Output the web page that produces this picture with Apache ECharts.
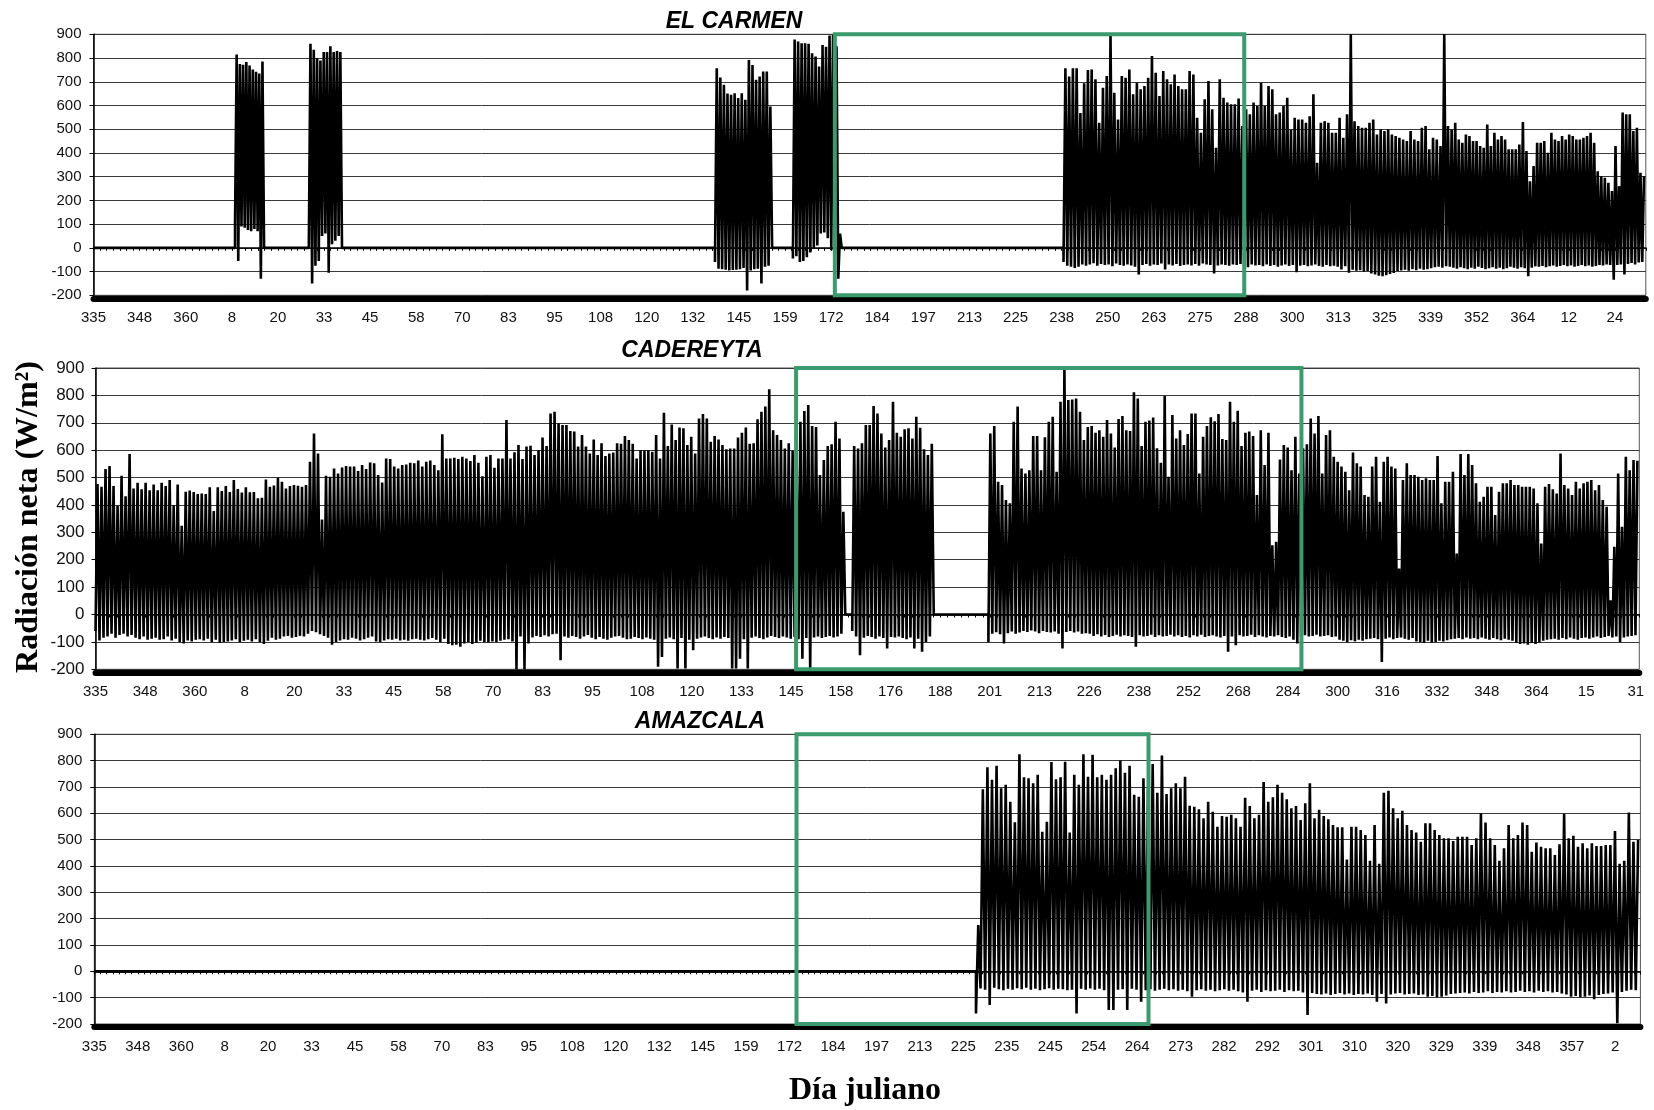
<!DOCTYPE html>
<html>
<head>
<meta charset="utf-8">
<title>Radiación neta</title>
<script src="https://cdn.jsdelivr.net/npm/echarts@6/dist/echarts.min.js"></script>
<style>
  html, body { margin: 0; padding: 0; background: #fff; }
  #chart { width: 1654px; height: 1110px; }
</style>
</head>
<body>
<div id="chart"></div>
<script>
// ---- Axis tick labels (Julian day shown every 12-13 records) ----
const carmenTicks = [335,348,360,8,20,33,45,58,70,83,95,108,120,132,145,159,172,184,197,213,225,238,250,263,275,288,300,313,325,339,352,364,12,24];
const cadereytaTicks = [335,348,360,8,20,33,45,58,70,83,95,108,120,133,145,158,176,188,201,213,226,238,252,268,284,300,316,332,348,364,15,31];
const amazcalaTicks = [335,348,360,8,20,33,45,58,70,83,95,108,120,132,145,159,172,184,197,213,225,235,245,254,264,273,282,292,301,310,320,329,339,348,357,2];

// ---- Axis extent, in label steps ----
const carmenMax = 33.67, cadereytaMax = 31.07, amazcalaMax = 35.58;

// ---- Recording periods [from, to], in label steps ----
const carmenSpans = [[3.07,3.70],[4.67,5.39],[13.48,14.72],[15.17,16.23],[21.04,21.61],[21.61,24.96],[24.96,29.42],[29.42,33.67]];
const cadereytaSpans = [[0,9.36],[9.36,15.09],[15.23,16.87],[17.97,20.01],[20.01,31.07]];
const amazcalaSpans = [[20.29,22.92],[22.92,35.58]];

// ---- Periods analysed (green frames), in label steps ----
const carmenWindow = [16.08, 24.96];
const cadereytaWindow = [14.10, 24.27];
const amazcalaWindow = [16.16, 24.26];

// ---- EL CARMEN: daily maximum and nightly minimum (W/m2) ----
const carmenPeaksA = [815,775,772,783,768,752,742,735,785];
const carmenLowsA  = [100,-55,90,85,75,70,80,70,-130];
const carmenPeaksB = [860,835,800,790,825,825,850,825,830,825];
const carmenLowsB  = [0,-150,-75,-55,50,60,-105,15,30,50];
const carmenPeaksC = [757,718,687,650,645,652,631,652,624,792,771,708,722,743,743,596];
const carmenLowsC  = [-60,-88,-90,-92,-95,-93,-92,-90,-85,-180,-95,-90,-88,-150,-80,-75];
const carmenPeaksD = [878,870,862,862,860,820,806,764,855,848,895,897,850,60];
const carmenLowsD  = [-45,-35,-60,-55,-40,-20,-5,10,60,65,40,-10,-40,-130];
const carmenPeaksE1 = [757,722,757,757,568,694,750];
const carmenLowsE1  = [-60,-75,-80,-85,-80,-70,-75];
const carmenPeaksE2 = [752,710,527,675,724,900,654,541,724,717,752,647,696,668,682,717,809,738,640,745,710,689,731,682,668,668,745,731,548,485,626,703,584,422,710,633,612,605,605,629,513];
const carmenLowsE2  = [-70,-65,-75,-68,-72,-70,-78,-66,-72,-75,-70,-74,-80,-112,-72,-68,-75,-70,-72,-66,-91,-70,-74,-68,-76,-72,-70,-74,-68,-75,-66,-70,-72,-108,-74,-70,-72,-75,-70,-72,-68];
const carmenPeaksE3 = [584,563,612,598,696,598,682,668,563,570,598,633,499,548,541,541,527,555,647,359,527,534,527,485,485,548,464,563,900,534,513,506,506,527,541,478,499,492,499,478,471,464,457,450,492,457,450,506,513,415,464,457,429,900,513];
const carmenLowsE3  = [-75,-82,-70,-74,-72,-78,-70,-76,-72,-80,-74,-70,-76,-72,-103,-75,-72,-78,-74,-70,-76,-80,-72,-78,-75,-80,-91,-78,-105,-92,-96,-94,-100,-98,-108,-112,-118,-120,-115,-110,-106,-98,-95,-92,-96,-90,-94,-88,-92,-90,-86,-82,-80,-84,-78];
const carmenPeaksE4 = [499,527,457,443,478,471,450,450,429,422,520,429,485,457,471,457,415,415,415,436,530,408,281,345,443,443,450,401,485,457,450,471,457,478,471,457,457,464,471,485,443,323,302,295,274,239,429,260,570,563,563,492,506,316,302];
const carmenLowsE4  = [-80,-84,-88,-82,-86,-90,-84,-88,-80,-85,-90,-86,-82,-88,-84,-90,-86,-80,-84,-88,-82,-86,-120,-84,-78,-80,-76,-82,-78,-74,-80,-76,-72,-78,-74,-80,-76,-72,-78,-74,-80,-76,-72,-74,-70,-72,-134,-72,-70,-112,-68,-64,-70,-62,-60];

// ---- CADEREYTA ----
const cadereytaPeaks1 = [476,466,531,542,469,397,507,432,586,460,481,457,481,454,475,454,481,469,491,400,475,324,448,453,447,440,442,440,465,378,465,451,469,447,491,458,445,465,446,447,424,426,493,466,471,499,485,460,469,473,470,466,473,558,661,588,347,507,503,533,515,537,542,540,540,524,546,531,555,552,509,482,570,568,540,533,546,548,554,552,562,540,558,562,546,527,658,570,570,572,568,576,570,560,582,554,505,576,582,536,570,570,710,570,592,619,568,613,616,582,600,646,615,734,740,698];
const cadereytaLows1  = [-60,-95,-85,-80,-70,-85,-75,-70,-80,-75,-85,-90,-80,-92,-88,-85,-92,-90,-80,-95,-88,-100,-106,-95,-98,-92,-90,-95,-88,-100,-92,-104,-100,-98,-95,-90,-100,-96,-92,-98,-90,-100,-108,-96,-85,-92,-88,-80,-78,-85,-82,-78,-80,-70,-60,-65,-72,-78,-85,-110,-100,-95,-90,-92,-85,-88,-95,-90,-85,-80,-98,-100,-95,-90,-92,-88,-95,-92,-96,-90,-88,-92,-95,-90,-86,-92,-100,-88,-108,-112,-110,-118,-106,-100,-108,-104,-96,-100,-102,-98,-100,-96,-92,-90,-98,-200,-80,-200,-106,-84,-78,-82,-76,-80,-72,-70];
const cadereytaPeaks2 = [692,692,670,668,613,655,613,588,639,582,625,579,588,591,625,623,652,637,623,570,600,600,600,594,655,570,737,615,694,637,683,680,619,649,588,716,732,716,631,652,639,619,603,606,606,646,664,683,623,625,713,740,759,822,673,655,637,606,625,598,606,704,743,765,688,685,509,564,615,622,704,643,375];
const cadereytaLows2  = [-167,-80,-85,-78,-82,-88,-80,-75,-85,-90,-82,-88,-92,-85,-80,-78,-85,-90,-88,-82,-86,-90,-84,-88,-92,-191,-155,-88,-84,-90,-197,-86,-197,-92,-130,-88,-84,-80,-86,-90,-84,-88,-82,-86,-197,-197,-161,-90,-197,-85,-80,-86,-90,-84,-78,-82,-86,-80,-84,-88,-82,-90,-161,-86,-197,-84,-80,-86,-82,-78,-84,-80,-70];
const cadereytaPeaks3 = [615,606,625,692,692,761,734,661,610,637,777,664,649,676,680,643,722,682,603,582,623];
const cadereytaLows3  = [-60,-80,-149,-85,-78,-82,-88,-80,-86,-124,-82,-84,-80,-86,-90,-84,-124,-88,-136,-100,-80];
const cadereytaPeaks4 = [661,688,485,473,418,406,704,759,533,515,527,652,652,527,647,704,722,521,777,899,783,785,789,740,637,685];
const cadereytaLows4  = [-100,-70,-65,-72,-106,-68,-62,-70,-66,-60,-64,-58,-62,-68,-60,-64,-66,-62,-70,-124,-64,-60,-66,-62,-70,-68];
const cadereytaPeaks5 = [688,664,673,649,710,661,610,714,725,673,670,811,789,615,704,708,719,607,554,798,503,728,643,673,619,659,734,734,515,649,688,720,706,732,641,637,777,704,744,615,664,668,652,436,673,546,664,253,266,566,619,610,527,649,515,607,622,716,661,725,515,655,673,576,558,540,521,454,591,552,540,436,430,540,576,412,558,576,540,533,168,491,552,509,509,503,491,497,491,491,579,406,485,485,521,223,586,509,586,546,479,412,430,466,466,363,448,479,479,491,473,473,466,466,466,460,406,259,466,476,457,442,588,473,460,436,485,460,479,485,491,454,473,418,393,52,247,515,320,576,527,564,561];
const cadereytaLows5  = [-70,-78,-72,-80,-75,-82,-78,-74,-80,-76,-78,-82,-118,-76,-80,-78,-74,-82,-76,-80,-78,-74,-80,-76,-82,-78,-84,-76,-80,-74,-82,-78,-76,-80,-84,-78,-136,-80,-112,-76,-80,-78,-74,-82,-76,-80,-84,-78,-80,-76,-82,-86,-80,-92,-106,-82,-76,-80,-78,-74,-80,-78,-76,-82,-80,-92,-96,-100,-94,-98,-92,-96,-90,-88,-86,-90,-173,-88,-84,-90,-86,-84,-88,-92,-86,-98,-100,-104,-96,-102,-100,-96,-98,-94,-90,-88,-86,-90,-84,-88,-86,-90,-84,-88,-92,-86,-90,-94,-88,-92,-96,-104,-108,-106,-110,-104,-108,-102,-96,-92,-90,-88,-92,-86,-90,-84,-88,-92,-86,-84,-88,-84,-80,-86,-82,-78,-84,-80,-100,-84,-80,-78,-76];

// ---- AMAZCALA ----
const amazcalaPeaks1 = [176,691,775,727,781,695,708,644,566,824,737,733,714,746,530,568,795,729,737,796,527,746,708,824,739];
const amazcalaLows1  = [-160,-65,-70,-128,-62,-68,-72,-66,-70,-64,-68,-62,-70,-66,-72,-68,-64,-70,-66,-68,-72,-70,-160,-66,-70];
const amazcalaPeaks2 = [822,737,746,727,746,771,800,754,781,670,663,733,700,787,678,819,673,695,714,695,739,629,625,615,581,644,606,549,590,587,594,581,549,659,628,581,594,719,644,661,708,678,653,619,628,575,638,714,581,613,590,577,556,547,547,425,549,549,537,518,420,556,408,678,686,619,581,610,556,537,527,492,562,562,537,518,505,505,495,511,511,511,480,505,600,565,505,480,420,467,556,505,518,565,556,454,489,473,467,467,442,482,597,505,515,473,486,467,486,476,476,480,480,533,408,420,603,492,499];
const amazcalaLows2  = [-65,-70,-66,-72,-147,-147,-70,-68,-147,-66,-70,-115,-72,-68,-74,-70,-66,-72,-68,-74,-70,-76,-96,-72,-68,-74,-70,-76,-72,-68,-74,-70,-76,-80,-115,-74,-70,-78,-72,-76,-74,-70,-78,-72,-76,-74,-80,-166,-82,-86,-88,-84,-90,-86,-82,-88,-84,-90,-86,-88,-84,-90,-115,-86,-122,-88,-84,-82,-88,-86,-84,-90,-88,-96,-94,-98,-96,-92,-86,-84,-82,-80,-84,-78,-82,-80,-76,-82,-78,-80,-76,-80,-78,-74,-78,-76,-80,-74,-78,-76,-80,-78,-84,-88,-96,-94,-98,-96,-92,-106,-90,-86,-84,-80,-197,-78,-74,-70,-72];

const carmenPeaks = [carmenPeaksA, carmenPeaksB, carmenPeaksC, carmenPeaksD, carmenPeaksE1, carmenPeaksE2, carmenPeaksE3, carmenPeaksE4];
const carmenLows = [carmenLowsA, carmenLowsB, carmenLowsC, carmenLowsD, carmenLowsE1, carmenLowsE2, carmenLowsE3, carmenLowsE4];
const cadereytaPeaks = [cadereytaPeaks1, cadereytaPeaks2, cadereytaPeaks3, cadereytaPeaks4, cadereytaPeaks5];
const cadereytaLows = [cadereytaLows1, cadereytaLows2, cadereytaLows3, cadereytaLows4, cadereytaLows5];
const amazcalaPeaks = [amazcalaPeaks1, amazcalaPeaks2];
const amazcalaLows = [amazcalaLows1, amazcalaLows2];

// Build the daily cycle trace: each day goes from its night minimum up to its
// midday maximum; outside the recording periods the logger reads 0.
function buildTrace(spans, peaks, lows, axisMax) {
  const pts = [];
  let cursor = 0;
  spans.forEach(([from, to], i) => {
    if (from > cursor) pts.push([cursor, 0], [from, 0]);
    const p = peaks[i], l = lows[i];
    const w = (to - from) / p.length;
    p.forEach((v, k) => {
      const x = from + k * w;
      pts.push([x, l[k]], [x + w / 2, v]);
    });
    const next = spans[i + 1];
    if ((!next || next[0] > to) && to < axisMax - 1e-6) pts.push([to, 0]);
    cursor = to;
  });
  if (cursor < axisMax - 1e-6) pts.push([cursor, 0], [axisMax, 0]);
  return pts;
}

const GREEN = '#3a9b6c';
const SANS = '"Liberation Sans", Arial, sans-serif';
const SERIF = '"Liberation Serif", "Times New Roman", serif';

const panels = [
  { ticks: carmenTicks, max: carmenMax, spans: carmenSpans, peaks: carmenPeaks, lows: carmenLows, win: carmenWindow,
    grid: { left: 93.5, top: 34.3, right: 8.2, height: 261 }, yFont: 15, yMargin: 12 },
  { ticks: cadereytaTicks, max: cadereytaMax, spans: cadereytaSpans, peaks: cadereytaPeaks, lows: cadereytaLows, win: cadereytaWindow,
    grid: { left: 95.5, top: 368, right: 14.7, height: 301.3 }, yFont: 17, yMargin: 11 },
  { ticks: amazcalaTicks, max: amazcalaMax, spans: amazcalaSpans, peaks: amazcalaPeaks, lows: amazcalaLows, win: amazcalaWindow,
    grid: { left: 94.3, top: 734.3, right: 13.6, height: 289.7 }, yFont: 15, yMargin: 12 }
];

const grids = [], xAxes = [], yAxes = [], series = [];
panels.forEach((pn, gi) => {
  grids.push(Object.assign({ show: true, borderColor: '#555', borderWidth: 1 }, pn.grid));
  // labelled axis with the heavy baseline under the plot
  xAxes.push({
    type: 'value', gridIndex: gi, min: 0, max: pn.max, interval: 1, position: 'bottom', offset: 3,
    axisLine: { onZero: false, lineStyle: { color: '#000', width: 6 } },
    axisTick: { show: false }, splitLine: { show: false },
    axisLabel: {
      margin: 12, color: '#111', fontFamily: SANS, fontSize: 15,
      formatter: v => {
        const r = Math.round(v);
        return Math.abs(v - r) < 1e-6 && pn.ticks[r] !== undefined ? String(pn.ticks[r]) : '';
      }
    }
  });
  // the zero line carries small tick marks
  xAxes.push({
    type: 'value', gridIndex: gi, min: 0, max: pn.max, interval: 1, position: 'bottom',
    axisLine: { onZero: true, lineStyle: { color: '#000', width: 1.5 } },
    axisTick: { show: true, length: 3, lineStyle: { color: '#000' } },
    minorTick: { show: true, splitNumber: 7, length: 3, lineStyle: { color: '#000' } },
    axisLabel: { show: false }, splitLine: { show: false }
  });
  yAxes.push({
    type: 'value', gridIndex: gi, min: -200, max: 900, interval: 100,
    axisLine: { show: true, onZero: false, lineStyle: { color: '#000', width: 1.5 } },
    axisTick: { show: true, length: 4, lineStyle: { color: '#000' } },
    splitLine: { show: true, lineStyle: { color: '#3a3a3a', width: 1 } },
    axisLabel: { color: '#111', fontFamily: SANS, fontSize: pn.yFont, margin: pn.yMargin }
  });
  series.push({
    type: 'line', xAxisIndex: gi * 2, yAxisIndex: gi,
    data: buildTrace(pn.spans, pn.peaks, pn.lows, pn.max),
    showSymbol: false, symbol: 'none', sampling: null, silent: true,
    lineStyle: { color: '#000', width: 2.6 }, z: 3
  });
  series.push({
    type: 'line', xAxisIndex: gi * 2, yAxisIndex: gi, data: [], clip: false, silent: true, z: 10,
    markArea: {
      silent: true, z: 10,
      itemStyle: { color: 'rgba(0,0,0,0)', borderColor: GREEN, borderWidth: 4 },
      data: [[{ coord: [pn.win[0], 900] }, { coord: [pn.win[1], -200] }]]
    }
  });
});

const chart = echarts.init(document.getElementById('chart'), null, { renderer: 'canvas' });
chart.setOption({
  animation: false,
  backgroundColor: '#fff',
  grid: grids, xAxis: xAxes, yAxis: yAxes, series: series,
  graphic: [
    { type: 'text', x: 734, y: 21.5, style: { text: 'EL CARMEN', font: 'italic bold 23px ' + SANS, fill: '#000', align: 'center', verticalAlign: 'middle' } },
    { type: 'text', x: 692, y: 351, style: { text: 'CADEREYTA', font: 'italic bold 23px ' + SANS, fill: '#000', align: 'center', verticalAlign: 'middle' } },
    { type: 'text', x: 700, y: 721.5, style: { text: 'AMAZCALA', font: 'italic bold 23px ' + SANS, fill: '#000', align: 'center', verticalAlign: 'middle' } },
    { type: 'text', x: 28.5, y: 517, rotation: Math.PI / 2, style: { text: 'Radiación neta (W/m²)', font: 'bold 32px ' + SERIF, fill: '#000', align: 'center', verticalAlign: 'middle' } },
    { type: 'text', x: 865, y: 1091, style: { text: 'Día juliano', font: 'bold 32px ' + SERIF, fill: '#000', align: 'center', verticalAlign: 'middle' } }
  ]
});
</script>
</body>
</html>
